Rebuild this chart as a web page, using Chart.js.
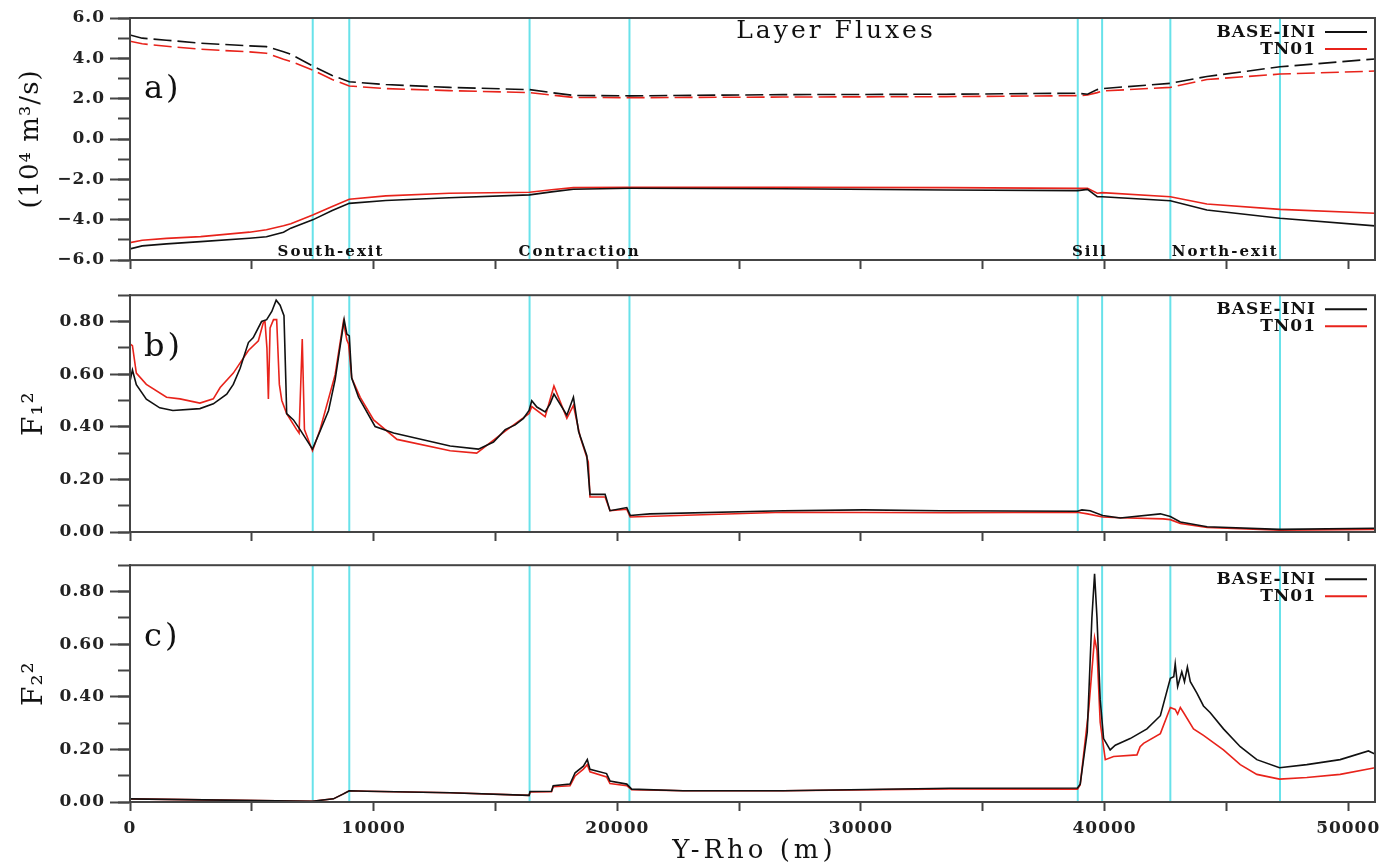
<!DOCTYPE html>
<html>
<head>
<meta charset="utf-8">
<title>Layer Fluxes</title>
<script src="https://cdn.jsdelivr.net/npm/chart.js@4.4.1/dist/chart.umd.min.js"></script>
<style>
body { margin: 0; background: #fff; }
#wrap { position: relative; width: 1397px; height: 867px; }
canvas { position: absolute; left: 0; }
</style>
</head>
<body>
<div id="wrap">
    <canvas id="fluxChart" width="1397" height="280" style="top:0px"></canvas>
    <canvas id="f1Chart" width="1397" height="270" style="top:280px"></canvas>
    <canvas id="f2Chart" width="1397" height="317" style="top:550px"></canvas>
</div>

<script>
// SECTION BOUNDARIES (m) AND NAMES
const sectionEdges = [7500, 9000, 16400, 20500, 38900, 39900, 42700, 47200];
const sectionNames = ["South-exit", "Contraction", "Sill", "North-exit"];
const seriesNames = ["BASE-INI", "TN01"];

// X AXIS TICKS (m), LABELLED EVERY 10000
const xTicks = [0, 5000, 10000, 15000, 20000, 25000, 30000, 35000, 40000, 45000, 50000];
const xTickLabels = [0, 10000, 20000, 30000, 40000, 50000];

// PANEL A - LAYER FLUXES (10^4 m3/s)
const fluxX      = [0, 500, 1500, 2900, 4900, 5600, 6300, 6600, 7500, 8300, 9000, 10500, 13100, 16400, 17300, 18200, 20500, 26800, 33500, 38900, 39300, 39700, 39900, 42700, 44200, 47200, 51100];
const upperBase  = [5.16, 5.0, 4.9, 4.75, 4.62, 4.58, 4.33, 4.2, 3.62, 3.15, 2.84, 2.7, 2.56, 2.45, 2.3, 2.16, 2.14, 2.2, 2.22, 2.27, 2.22, 2.45, 2.5, 2.76, 3.1, 3.58, 3.97];
const upperTn01  = [4.85, 4.72, 4.6, 4.45, 4.32, 4.25, 3.95, 3.85, 3.42, 2.95, 2.63, 2.5, 2.4, 2.3, 2.18, 2.06, 2.05, 2.08, 2.1, 2.15, 2.18, 2.3, 2.38, 2.56, 2.95, 3.22, 3.37];
const lowerBase  = [-5.45, -5.3, -5.2, -5.09, -4.92, -4.85, -4.62, -4.42, -4.01, -3.55, -3.19, -3.05, -2.91, -2.77, -2.62, -2.49, -2.44, -2.47, -2.53, -2.56, -2.5, -2.86, -2.86, -3.06, -3.52, -3.93, -4.31];
const lowerTn01  = [-5.14, -5.02, -4.93, -4.84, -4.62, -4.5, -4.3, -4.2, -3.77, -3.35, -2.99, -2.82, -2.69, -2.64, -2.52, -2.41, -2.39, -2.4, -2.41, -2.45, -2.44, -2.69, -2.66, -2.86, -3.22, -3.49, -3.68];

// PANEL B - F1^2
const f1BaseX = [0, 100, 260, 670, 1220, 1760, 2870, 3420, 3970, 4240, 4520, 4860, 5060, 5400, 5610, 5820, 6000, 6160, 6320, 6400, 6430, 6710, 6980, 7490, 7800, 8150, 8420, 8790, 8900, 9000, 9100, 9380, 10060, 10820, 13140, 14300, 14920, 15400, 15810, 16150, 16380, 16490, 16700, 17040, 17240, 17400, 17930, 18200, 18410, 18750, 18880, 19500, 19700, 20390, 20530, 21340, 26820, 30100, 33250, 38890, 39070, 39410, 39920, 40640, 42290, 42700, 43110, 44210, 47180, 51100];
const f1Base  = [0.573, 0.616, 0.56, 0.505, 0.472, 0.462, 0.469, 0.487, 0.524, 0.561, 0.622, 0.72, 0.739, 0.80, 0.807, 0.838, 0.881, 0.862, 0.822, 0.561, 0.45, 0.426, 0.389, 0.315, 0.383, 0.462, 0.579, 0.807, 0.752, 0.745, 0.585, 0.512, 0.401, 0.376, 0.327, 0.315, 0.342, 0.389, 0.407, 0.432, 0.462, 0.499, 0.475, 0.456, 0.487, 0.524, 0.444, 0.512, 0.383, 0.29, 0.143, 0.143, 0.081, 0.093, 0.063, 0.069, 0.081, 0.084, 0.081, 0.079, 0.084, 0.081, 0.063, 0.053, 0.069, 0.059, 0.038, 0.02, 0.01, 0.014];
const f1TnX   = [0, 100, 260, 670, 1500, 2050, 2870, 3420, 3700, 4240, 4860, 5270, 5470, 5540, 5620, 5680, 5750, 5890, 6020, 6130, 6230, 6430, 6840, 6940, 7070, 7160, 7490, 7800, 8420, 8760, 8900, 8970, 9100, 9450, 10000, 10960, 13140, 14230, 15400, 16380, 16490, 17040, 17400, 17930, 18200, 18470, 18810, 18880, 19500, 19700, 20390, 20530, 26820, 33660, 38890, 39300, 39920, 40640, 42400, 42700, 43110, 44210, 47180, 51100];
const f1Tn01  = [0.715, 0.708, 0.604, 0.561, 0.512, 0.506, 0.49, 0.506, 0.549, 0.604, 0.69, 0.727, 0.795, 0.80, 0.70, 0.506, 0.776, 0.807, 0.807, 0.561, 0.5, 0.45, 0.389, 0.376, 0.733, 0.389, 0.309, 0.389, 0.598, 0.80, 0.73, 0.715, 0.585, 0.512, 0.426, 0.352, 0.309, 0.30, 0.383, 0.45, 0.477, 0.438, 0.555, 0.432, 0.481, 0.364, 0.266, 0.133, 0.133, 0.081, 0.087, 0.057, 0.075, 0.073, 0.075, 0.069, 0.057, 0.054, 0.05, 0.047, 0.032, 0.017, 0.007, 0.01];

// PANEL C - F2^2
const f2BaseX = [0, 3000, 6000, 7490, 8350, 8760, 9000, 9720, 13140, 16380, 16420, 17300, 17370, 18060, 18270, 18610, 18770, 18880, 19560, 19700, 20390, 20590, 22700, 26820, 33660, 38890, 39000, 39290, 39480, 39590, 39690, 39820, 39960, 40230, 40440, 41050, 41740, 42290, 42700, 42840, 42900, 43000, 43170, 43280, 43400, 43520, 43790, 44060, 44330, 44880, 45570, 46250, 47180, 48300, 49670, 50830, 51100];
const f2Base  = [0.012, 0.008, 0.005, 0.003, 0.012, 0.031, 0.043, 0.041, 0.035, 0.025, 0.04, 0.041, 0.062, 0.068, 0.111, 0.136, 0.161, 0.124, 0.108, 0.08, 0.068, 0.049, 0.043, 0.043, 0.052, 0.053, 0.068, 0.266, 0.699, 0.867, 0.699, 0.39, 0.241, 0.198, 0.216, 0.241, 0.278, 0.328, 0.47, 0.476, 0.525, 0.439, 0.495, 0.457, 0.513, 0.457, 0.414, 0.365, 0.34, 0.278, 0.21, 0.161, 0.13, 0.142, 0.161, 0.194, 0.182];
const f2TnX   = [0, 3000, 6000, 7490, 8350, 8760, 9000, 9720, 13140, 16380, 16420, 17300, 17370, 18060, 18270, 18610, 18770, 18880, 19560, 19700, 20390, 20590, 22700, 26820, 33660, 38890, 39000, 39350, 39590, 39690, 39820, 40030, 40370, 41330, 41460, 41600, 42290, 42700, 42900, 43000, 43110, 43240, 43650, 44060, 44880, 45570, 46250, 47180, 48300, 49670, 51100];
const f2Tn01  = [0.012, 0.008, 0.005, 0.003, 0.012, 0.031, 0.043, 0.041, 0.035, 0.025, 0.038, 0.039, 0.058, 0.062, 0.099, 0.125, 0.142, 0.115, 0.095, 0.07, 0.062, 0.047, 0.043, 0.043, 0.05, 0.049, 0.066, 0.352, 0.624, 0.575, 0.303, 0.161, 0.173, 0.179, 0.21, 0.223, 0.26, 0.359, 0.352, 0.334, 0.359, 0.34, 0.278, 0.253, 0.198, 0.142, 0.105, 0.087, 0.093, 0.105, 0.13];

const axisColor = "#444";
const baseColor = "#111";
const tnColor = "#e8231b";
const cyanColor = "#68e2ea";
const tickFont = { family: "DejaVu Serif", size: 17, weight: "bold" };

function toPoints(xs, ys) {
    return xs.map((x, i) => ({ x: x, y: ys[i] }));
}

// one vertical cyan line per section edge, broken by null gaps
function cyanLines(min, max) {
    return sectionEdges.flatMap(x => [{ x: x, y: min }, { x: x, y: max }, { x: x, y: null }]);
}

function line(points, color, dashed) {
    return {
        data: points,
        borderColor: color,
        borderWidth: 1.6,
        borderDash: dashed ? [18, 6] : [],
        pointRadius: 0,
        tension: 0,
        order: 1
    };
}

// TEXT, LEGEND, TITLES AND FRAME
function drawPanelText(chart, p) {
    const ctx = chart.ctx;
    const a = chart.chartArea;
    const xs = chart.scales.x;

    ctx.save();
    ctx.strokeStyle = axisColor;
    ctx.lineWidth = 2;
    ctx.strokeRect(a.left, a.top, a.right - a.left, a.bottom - a.top);

    ctx.fillStyle = "#111";
    ctx.textAlign = "left";
    ctx.letterSpacing = "3px";
    ctx.font = '32px "DejaVu Serif"';
    ctx.fillText(p.tag, a.left + 14, a.top + p.tagY);

    // legend, line sample to the right of the name
    ctx.font = 'bold 17px "DejaVu Serif"';
    ctx.letterSpacing = "1px";
    ctx.textAlign = "right";
    [baseColor, tnColor].forEach((c, i) => {
        const y = a.top + 14 + i * 17;
        ctx.fillStyle = "#111";
        ctx.fillText(seriesNames[i], a.right - 59, y + 5);
        ctx.strokeStyle = c;
        ctx.lineWidth = 2;
        ctx.beginPath();
        ctx.moveTo(a.right - 50, y);
        ctx.lineTo(a.right - 8, y);
        ctx.stroke();
    });

    if (p.title) {
        ctx.font = '25px "DejaVu Serif"';
        ctx.letterSpacing = "3px";
        ctx.textAlign = "center";
        ctx.fillText(p.title, a.left + 706, a.top + 20);
    }

    if (p.sections) {
        ctx.font = 'bold 15px "DejaVu Serif"';
        ctx.letterSpacing = "2px";
        ctx.textAlign = "center";
        sectionNames.forEach((name, i) => {
            const mid = (sectionEdges[2 * i] + sectionEdges[2 * i + 1]) / 2;
            ctx.fillText(name, xs.getPixelForValue(mid), a.bottom - 4);
        });
    }

    // y title, rotated
    ctx.save();
    ctx.translate(p.yTitleX, (a.top + a.bottom) / 2);
    ctx.rotate(-Math.PI / 2);
    ctx.font = p.yTitleSize + 'px "DejaVu Serif"';
    ctx.letterSpacing = "1px";
    ctx.textAlign = "center";
    ctx.textBaseline = "middle";
    ctx.fillText(p.yTitle, 0, 0);
    ctx.restore();

    if (p.xTitle) {
        ctx.font = '26px "DejaVu Serif"';
        ctx.letterSpacing = "4px";
        ctx.textAlign = "center";
        ctx.fillText(p.xTitle, (a.left + a.right) / 2 + 2, chart.height - 9);
    }
    ctx.restore();
}

function makePanel(id, p) {
    const datasets = [{
        data: cyanLines(p.yMin, p.yMax),
        borderColor: cyanColor,
        borderWidth: 2,
        pointRadius: 0,
        spanGaps: false,
        order: 10
    }].concat(p.datasets);

    return new Chart(document.getElementById(id), {
        type: "line",
        data: { datasets: datasets },
        options: {
            responsive: false,
            animation: false,
            events: [],
            layout: { padding: { top: p.padTop, right: 22, left: 0, bottom: 0 } },
            plugins: { legend: { display: false }, tooltip: { enabled: false } },
            scales: {
                x: {
                    type: "linear",
                    min: 0,
                    max: 51100,
                    afterBuildTicks: s => { s.ticks = xTicks.map(v => ({ value: v })); },
                    afterFit: s => { s.height = p.xHeight; },
                    border: { color: axisColor, width: 2 },
                    grid: { drawOnChartArea: false, tickLength: 9, tickWidth: 2, tickColor: axisColor, color: axisColor },
                    ticks: {
                        autoSkip: false, maxRotation: 0, minRotation: 0,
                        padding: 7, color: "#222", font: tickFont,
                        callback: v => (p.xLabels && xTickLabels.includes(v)) ? String(v) : ""
                    }
                },
                // major ticks with labels
                y: {
                    min: p.yMin,
                    max: p.yMax,
                    afterFit: s => { s.width = 130; },
                    border: { color: axisColor, width: 2 },
                    grid: { drawOnChartArea: false, tickLength: 20, tickWidth: 2, tickColor: axisColor, color: axisColor },
                    ticks: {
                        stepSize: p.yMajor, includeBounds: false, autoSkip: false,
                        padding: 5, color: "#222", font: tickFont,
                        callback: p.yLabel
                    }
                },
                // minor ticks only, laid on the same left edge
                yMinor: {
                    position: { x: 0 },
                    min: p.yMin,
                    max: p.yMax,
                    afterFit: s => { s.width = 0; },
                    border: { display: false },
                    grid: { drawOnChartArea: false, tickLength: 12, tickWidth: 2, tickColor: axisColor },
                    ticks: { stepSize: p.yMinor, includeBounds: false, autoSkip: false, display: false }
                }
            }
        },
        plugins: [{
            id: "panelText",
            beforeDraw: chart => { chart.ctx.letterSpacing = "1px"; },
            afterDraw: chart => drawPanelText(chart, p)
        }]
    });
}

function fluxLabel(v) {
    const r = Math.round(v);
    return (r < 0 ? "\u2212" : "") + Math.abs(r).toFixed(1);
}

function froudeLabel(v) {
    return (Math.round(v * 10) / 10).toFixed(2);
}

window.onload = function () {

    makePanel("fluxChart", {
        yMin: -6, yMax: 6, yMajor: 2, yMinor: 1, yLabel: fluxLabel,
        yTitle: "(10\u2074 m\u00b3/s)", yTitleSize: 26, yTitleX: 31,
        padTop: 18, xHeight: 20, xLabels: false,
        tag: "a)", tagY: 80, title: "Layer Fluxes", sections: true,
        datasets: [
            line(toPoints(fluxX, upperBase), baseColor, true),
            line(toPoints(fluxX, upperTn01), tnColor, true),
            line(toPoints(fluxX, lowerBase), baseColor, false),
            line(toPoints(fluxX, lowerTn01), tnColor, false)
        ]
    });

    makePanel("f1Chart", {
        yMin: 0, yMax: 0.9, yMajor: 0.2, yMinor: 0.1, yLabel: froudeLabel,
        yTitle: "F\u2081\u00b2", yTitleSize: 28, yTitleX: 35,
        padTop: 8, xHeight: 18, xLabels: false,
        tag: "b)", tagY: 61,
        datasets: [
            line(toPoints(f1BaseX, f1Base), baseColor, false),
            line(toPoints(f1TnX, f1Tn01), tnColor, false)
        ]
    });

    makePanel("f2Chart", {
        yMin: 0, yMax: 0.9, yMajor: 0.2, yMinor: 0.1, yLabel: froudeLabel,
        yTitle: "F\u2082\u00b2", yTitleSize: 28, yTitleX: 35,
        padTop: 9, xHeight: 65, xLabels: true, xTitle: "Y-Rho (m)",
        tag: "c)", tagY: 81,
        datasets: [
            line(toPoints(f2BaseX, f2Base), baseColor, false),
            line(toPoints(f2TnX, f2Tn01), tnColor, false)
        ]
    });
};
</script>
</body>
</html>
